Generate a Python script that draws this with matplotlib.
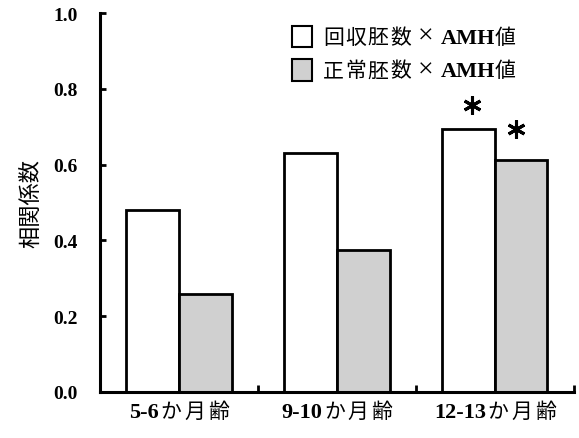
import matplotlib
matplotlib.use("Agg")
import matplotlib.pyplot as plt
import numpy as np
from matplotlib.patches import Rectangle
from matplotlib.offsetbox import (TextArea, HPacker, VPacker, DrawingArea,
                                  AnnotationBbox, AnchoredOffsetbox)

plt.rcParams['font.family'] = ['Liberation Serif', 'Noto Sans CJK JP']

group_nums = ["5-6", "9-10", "12-13"]
group_suffix = "か月齢"
retrieved = [0.48, 0.63, 0.694]
normal = [0.259, 0.375, 0.612]
series_names = [("回収胚数", "AMH", "値"), ("正常胚数", "AMH", "値")]
series_colors = ["white", "#d0d0d0"]
y_ticks = [0.0, 0.2, 0.4, 0.6, 0.8, 1.0]
# significant bars: (group index, series index)
signif = [(2, 0), (2, 1)]

NUM_B = dict(family="Liberation Serif", weight="bold", size=16)
AMH_B = dict(family="Liberation Serif", weight="bold", size=16)
TIMES = dict(family="Liberation Serif", weight="normal", size=20)
CJK = dict(family="Noto Sans CJK JP", weight="normal", size=15)


def spaced(text, props, sep):
    # one box per character so the spacing can be opened up a little
    return HPacker(children=[TextArea(c, textprops=props) for c in text],
                   align="baseline", pad=0, sep=sep)


fig = plt.figure(figsize=(5.79, 4.39), dpi=100)
ax = fig.add_axes([0.1727, 0.1048, 0.8183, 0.8633])

x = np.arange(len(group_nums))
w = 1 / 3
ax.bar(x - w / 2, retrieved, w, color=series_colors[0], edgecolor="black", linewidth=2)
ax.bar(x + w / 2, normal, w, color=series_colors[1], edgecolor="black", linewidth=2)

# significance marks
vals = [retrieved, normal]
dx = [0.02, -0.03]
dy = [0.063, 0.082]
for g, s in signif:
    xs = x[g] + (s - 0.5) * w + dx[s]
    ax.plot(xs, vals[s][g] + dy[s], marker=(6, 2, 0), markersize=13,
            markeredgewidth=2.2, color="black", linestyle="none")

ax.set_xlim(-0.5, 2.5)
ax.set_ylim(0, 1.0)
ax.set_yticks(y_ticks)
ax.set_yticklabels([f"{v:.1f}" for v in y_ticks], fontsize=14, fontweight="bold")
ax.set_xticks(x)
ax.set_xticklabels([])
ax.tick_params(axis="x", length=0)
ax.set_xticks([0.5, 1.5, 2.5], minor=True)
ax.tick_params(axis="x", which="minor", direction="in", length=5, width=2)
ax.tick_params(axis="y", direction="in", length=4.5, width=2, pad=16)
ax.set_ylabel("相関係数", fontsize=16, labelpad=8, family="Noto Sans CJK JP")

for s in ["top", "right"]:
    ax.spines[s].set_visible(False)
for s in ["left", "bottom"]:
    ax.spines[s].set_linewidth(2.2)

# x tick labels: bold digits + regular kana/kanji
for xi, num in zip(x, group_nums):
    lab = HPacker(children=[TextArea(num, textprops=NUM_B), spaced(group_suffix, CJK, 2)],
                  align="baseline", pad=0, sep=1)
    ab = AnnotationBbox(lab, (xi, 0), xycoords=("data", "axes fraction"),
                        xybox=(0, -6), boxcoords="offset points",
                        box_alignment=(0.5, 1), frameon=False, pad=0)
    ax.add_artist(ab)

# legend
rows = []
for (jp, amh, suf), col in zip(series_names, series_colors):
    da = DrawingArea(14.4, 15.8, 0, 0)
    da.add_artist(Rectangle((0, 0), 14.4, 15.8, facecolor=col, edgecolor="black", linewidth=1.5))
    txt = HPacker(children=[spaced(jp, CJK, 1),
                            TextArea("×", textprops=TIMES),
                            HPacker(children=[TextArea(amh, textprops=AMH_B),
                                              TextArea(suf, textprops=CJK)],
                                    align="baseline", pad=0, sep=0)],
                  align="baseline", pad=0, sep=5)
    rows.append(HPacker(children=[da, txt], align="center", pad=0, sep=8))
leg = AnchoredOffsetbox(loc="upper left", child=VPacker(children=rows, align="left", pad=0, sep=6),
                        bbox_to_anchor=(292 / 579, 1 - 25 / 439), bbox_transform=fig.transFigure,
                        frameon=False, pad=0, borderpad=0)
ax.add_artist(leg)

fig.savefig("out.png", dpi=100)
